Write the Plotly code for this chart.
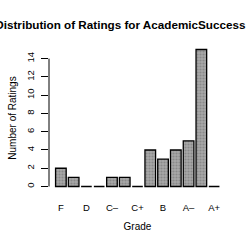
import plotly.graph_objects as go

grades = ["F", "D-", "D", "D+", "C-", "C", "C+", "B-", "B", "B+", "A-", "A", "A+"]
counts = [2, 1, 0, 0, 1, 1, 0, 4, 3, 4, 5, 15, 0]
label_grades = ["F", "D", "C-", "C+", "B", "A-", "A+"]
label_text = ["F", "D", "C\u2013", "C+", "B", "A\u2013", "A+"]
y_ticks = [0, 2, 4, 6, 8, 10, 12, 14]

FONT = "Liberation Sans, Arial, Helvetica, sans-serif"

fig = go.Figure(go.Bar(
    x=grades, y=counts,
    marker=dict(color="#8f8f8f", line=dict(color="black", width=1.3),
                pattern=dict(shape=".", fgcolor="#6a6a6a", bgcolor="#a8a8a8", size=3, solidity=0.4)),
))

fig.update_layout(
    width=250, height=250,
    margin=dict(l=49, r=24, t=44, b=58),
    paper_bgcolor="white", plot_bgcolor="white",
    bargap=0.167,
    showlegend=False,
    font=dict(family=FONT, size=9.5, color="black"),
    title=dict(text="<b>Distribution of Ratings for AcademicSuccess</b>",
               font=dict(size=11.7, family=FONT, color="black"),
               xref="container", x=0.982, xanchor="right",
               yref="container", y=0.9, yanchor="middle"),
)
fig.update_xaxes(
    type="category", range=[-0.93, 12.93],
    tickvals=label_grades, ticktext=label_text,
    showline=False, showgrid=False, zeroline=False, ticks="",
    ticklabelstandoff=8,
    title=dict(text="Grade", standoff=11, font=dict(size=10)),
)
fig.update_yaxes(
    range=[-0.6, 15.6], tickvals=y_ticks, tickangle=-90,
    showline=False, showgrid=False, zeroline=False,
    ticks="outside", ticklen=7, tickwidth=1, tickcolor="black",
    ticklabelstandoff=3,
    title=dict(text="Number of Ratings", standoff=6, font=dict(size=10)),
)
fig.add_shape(type="line", xref="paper", yref="y",
              x0=0, x1=0, y0=y_ticks[0], y1=y_ticks[-1],
              line=dict(color="black", width=1))

fig.write_html("out.html")
